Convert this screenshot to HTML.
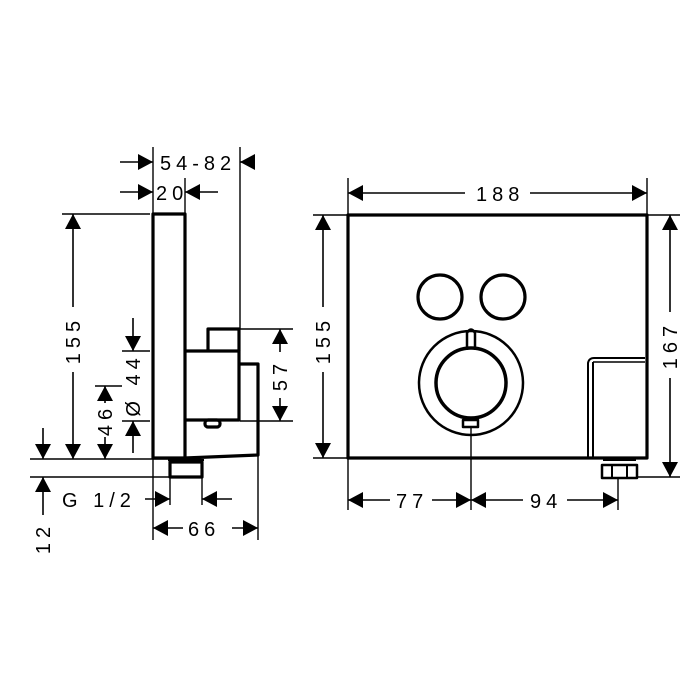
<!DOCTYPE html>
<html><head><meta charset="utf-8"><style>
html,body{margin:0;padding:0;background:#fff;}
svg{display:block;}
text{font-family:"Liberation Sans",sans-serif;font-size:20px;fill:#000;letter-spacing:5px;}
</style></head><body>
<svg width="700" height="700" viewBox="0 0 700 700" xmlns="http://www.w3.org/2000/svg">
<defs>
<marker id="a" viewBox="0 0 15 16" refX="15" refY="8" markerWidth="15" markerHeight="16" markerUnits="userSpaceOnUse" orient="auto"><path d="M0,0 L15,8 L0,16 Z" fill="#000"/></marker>
</defs>
<g stroke="#000" fill="none">
<g stroke-width="1.4">
<line x1="153" y1="147" x2="153" y2="214"/>
<line x1="185" y1="178" x2="185" y2="214"/>
<line x1="240" y1="147" x2="240" y2="329"/>
<line x1="62" y1="214" x2="150" y2="214"/>
<line x1="30" y1="459" x2="170" y2="459"/>
<line x1="30" y1="477" x2="170" y2="477"/>
<line x1="95" y1="386" x2="122" y2="386"/>
<line x1="122" y1="351" x2="150" y2="351"/>
<line x1="122" y1="421" x2="150" y2="421"/>
<line x1="240" y1="329" x2="293" y2="329"/>
<line x1="240" y1="421" x2="293" y2="421"/>
<line x1="170" y1="477" x2="170" y2="505"/>
<line x1="202" y1="477" x2="202" y2="505"/>
<line x1="153" y1="459" x2="153" y2="540"/>
<line x1="258" y1="455" x2="258" y2="540"/>
<line x1="348" y1="178" x2="348" y2="215"/>
<line x1="647" y1="178" x2="647" y2="215"/>
<line x1="313" y1="215" x2="348" y2="215"/>
<line x1="313" y1="458" x2="348" y2="458"/>
<line x1="647" y1="215" x2="680" y2="215"/>
<line x1="637" y1="477" x2="680" y2="477"/>
<line x1="348" y1="458" x2="348" y2="510"/>
<line x1="471" y1="427" x2="471" y2="510"/>
<line x1="618" y1="478" x2="618" y2="510"/>
</g>
<g stroke-width="1.6">
<line x1="120" y1="162" x2="153" y2="162" marker-end="url(#a)"/>
<line x1="255" y1="162" x2="240" y2="162" marker-end="url(#a)"/>
<line x1="120" y1="192" x2="153" y2="192" marker-end="url(#a)"/>
<line x1="218" y1="192" x2="185" y2="192" marker-end="url(#a)"/>
<line x1="73" y1="307" x2="73" y2="214" marker-end="url(#a)"/>
<line x1="73" y1="372" x2="73" y2="459" marker-end="url(#a)"/>
<line x1="43" y1="428" x2="43" y2="459" marker-end="url(#a)"/>
<line x1="43" y1="515" x2="43" y2="477" marker-end="url(#a)"/>
<line x1="105" y1="403" x2="105" y2="386" marker-end="url(#a)"/>
<line x1="105" y1="437" x2="105" y2="459" marker-end="url(#a)"/>
<line x1="133" y1="318" x2="133" y2="351" marker-end="url(#a)"/>
<line x1="133" y1="453" x2="133" y2="421" marker-end="url(#a)"/>
<line x1="280" y1="352" x2="280" y2="329" marker-end="url(#a)"/>
<line x1="280" y1="398" x2="280" y2="421" marker-end="url(#a)"/>
<line x1="145" y1="499" x2="170" y2="499" marker-end="url(#a)"/>
<line x1="232" y1="499" x2="202" y2="499" marker-end="url(#a)"/>
<line x1="183" y1="528" x2="153" y2="528" marker-end="url(#a)"/>
<line x1="232" y1="528" x2="258" y2="528" marker-end="url(#a)"/>
<line x1="465" y1="193" x2="348" y2="193" marker-end="url(#a)"/>
<line x1="530" y1="193" x2="647" y2="193" marker-end="url(#a)"/>
<line x1="323" y1="307" x2="323" y2="215" marker-end="url(#a)"/>
<line x1="323" y1="372" x2="323" y2="458" marker-end="url(#a)"/>
<line x1="670" y1="312" x2="670" y2="215" marker-end="url(#a)"/>
<line x1="670" y1="378" x2="670" y2="477" marker-end="url(#a)"/>
<line x1="390" y1="500" x2="348" y2="500" marker-end="url(#a)"/>
<line x1="432" y1="500" x2="471" y2="500" marker-end="url(#a)"/>
<line x1="523" y1="500" x2="471" y2="500" marker-end="url(#a)"/>
<line x1="567" y1="500" x2="618" y2="500" marker-end="url(#a)"/>
</g>
<g stroke-width="3.2" stroke-linejoin="round">
<rect x="153" y="214" width="32" height="244"/>
<path d="M185,351 L239,351 L239,420 L185,420"/>
<path d="M208,351 L208,329 L239,329 L239,351"/>
<path d="M239,364 L258,364 L258,455 L185,458"/>
<rect x="205" y="420" width="15" height="7" rx="3"/>
<rect x="170" y="462" width="32" height="15"/>
<line x1="168" y1="460" x2="204" y2="460" stroke-width="2"/>
</g>
<g stroke-width="3.2" stroke-linejoin="round">
<rect x="348" y="215" width="299" height="243"/>
<circle cx="440" cy="297" r="22"/>
<circle cx="503" cy="297" r="22"/>
<circle cx="471" cy="383" r="52" stroke-width="2.5"/>
<circle cx="471" cy="383" r="35" stroke-width="3.5"/>
<path d="M467,350 L467,333 Q471,326 475,333 L475,350" stroke-width="2.5"/>
<rect x="463" y="420" width="15" height="7" stroke-width="2.5"/>
<path d="M588,458 L588,363 Q589,358 594,358 L645,358" stroke-width="2"/>
<line x1="593" y1="362" x2="593" y2="458" stroke-width="2"/>
<line x1="593" y1="362" x2="645" y2="362" stroke-width="1.5"/>
<rect x="602" y="465" width="35" height="13" stroke-width="2.5"/>
<line x1="612" y1="465" x2="612" y2="478" stroke-width="2"/>
<line x1="627" y1="465" x2="627" y2="478" stroke-width="2"/>
<line x1="603" y1="460" x2="636" y2="460" stroke-width="2"/>
</g>
</g>
<text x="160" y="170">54-82</text>
<text x="156" y="200">20</text>
<text x="62" y="507">G 1/2</text>
<text x="188" y="536">66</text>
<text x="476" y="201">188</text>
<text x="396" y="508">77</text>
<text x="530" y="508">94</text>
<text transform="translate(80,340) rotate(-90)" text-anchor="middle">155</text>
<text transform="translate(50,538) rotate(-90)" text-anchor="middle">12</text>
<text transform="translate(112,420) rotate(-90)" text-anchor="middle">46</text>
<text transform="translate(140,385) rotate(-90)" text-anchor="middle">Ø 44</text>
<text transform="translate(287,375) rotate(-90)" text-anchor="middle">57</text>
<text transform="translate(330,340) rotate(-90)" text-anchor="middle">155</text>
<text transform="translate(677,345) rotate(-90)" text-anchor="middle">167</text>
</svg>
</body></html>
